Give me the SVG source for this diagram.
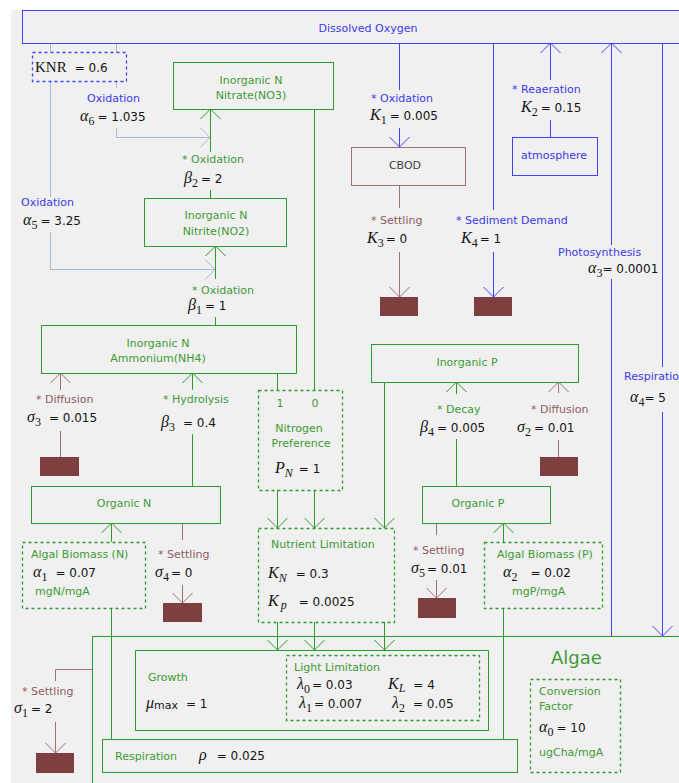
<svg xmlns="http://www.w3.org/2000/svg" width="679" height="783" viewBox="0 0 679 783">
<style>
.bg{fill:#f0f0f0}
.box{fill:none;stroke-width:1}
.bl{stroke:#4141ff}
.gr{stroke:#2e9a2e}
.br{stroke:#a07070}
.lb{stroke:#a6b9d6}
.dash{stroke-dasharray:3 3;stroke-width:1.3}
.t{font-family:"DejaVu Sans","Liberation Sans",sans-serif;font-size:11px}
.tb{fill:#3a3ae8}
.tg{fill:#3d9a35}
.tr{fill:#8f5c5c}
.tk{fill:#404040}
.n{font-family:"DejaVu Sans","Liberation Sans",sans-serif;font-size:12px;fill:#141414}
.m{font-family:"Liberation Serif",serif;font-style:italic;font-size:16px}
.s{font-family:"Liberation Serif",serif;font-size:12px}
.si{font-family:"Liberation Serif",serif;font-style:italic;font-size:12px}
.sed{fill:#7d3f3f}
.c{fill:none;stroke-width:1}
</style>
<defs>
<marker id="ab" viewBox="-11 -11 12 22" refX="0" refY="0" markerWidth="12" markerHeight="22" markerUnits="userSpaceOnUse" orient="auto"><path d="M-10,-10 L0,0 L-10,10" fill="none" stroke="#4141ff"/></marker>
<marker id="ag" viewBox="-11 -11 12 22" refX="0" refY="0" markerWidth="12" markerHeight="22" markerUnits="userSpaceOnUse" orient="auto"><path d="M-10,-10 L0,0 L-10,10" fill="none" stroke="#2e9a2e"/></marker>
<marker id="ar" viewBox="-11 -11 12 22" refX="0" refY="0" markerWidth="12" markerHeight="22" markerUnits="userSpaceOnUse" orient="auto"><path d="M-10,-10 L0,0 L-10,10" fill="none" stroke="#a07070"/></marker>
<marker id="al" viewBox="-11 -11 12 22" refX="0" refY="0" markerWidth="12" markerHeight="22" markerUnits="userSpaceOnUse" orient="auto"><path d="M-10,-10 L0,0 L-10,10" fill="none" stroke="#a6b9d6"/></marker>
</defs>
<rect width="679" height="783" fill="#ffffff"/>
<rect class="bg" x="11" y="10" width="668" height="773"/>

<g id="algae">
<rect class="box gr" x="92.5" y="636.5" width="700" height="200"/>
<text class="tg" x="551" y="664" font-family="DejaVu Sans, sans-serif" font-size="18">Algae</text>
</g>

<g id="connectors">
<path class="c bl" d="M399.5,43 V90"/>
<path class="c bl" d="M399.5,128 V147" marker-end="url(#ab)"/>
<path class="c bl" d="M550.5,137 V120"/>
<path class="c bl" d="M550.5,80 V43" marker-end="url(#ab)"/>
<path class="c bl" d="M493.5,43 V210"/>
<path class="c bl" d="M493.5,252 V297" marker-end="url(#ab)"/>
<path class="c bl" d="M611.5,636 V279"/>
<path class="c bl" d="M611.5,245 V43" marker-end="url(#ab)"/>
<path class="c bl" d="M662.5,43 V367"/>
<path class="c bl" d="M662.5,412 V636" marker-end="url(#ab)"/>

<path class="c lb" d="M50.5,43 V52 M116.5,43 V52 M50.5,81 V197 M116.5,81 V88"/>
<path class="c lb" d="M50.5,232 V269.5 H215" marker-end="url(#al)"/>
<path class="c lb" d="M116.5,128 V137.5 H210" marker-end="url(#al)"/>

<path class="c gr" d="M210.5,198 V190"/>
<path class="c gr" d="M210.5,152 V109" marker-end="url(#ag)"/>
<path class="c gr" d="M215.5,325 V317"/>
<path class="c gr" d="M215.5,279 V246" marker-end="url(#ag)"/>
<path class="c gr" d="M314.5,109 V390 M277.5,373 V390"/>
<path class="c gr" d="M192.5,486 V434"/>
<path class="c gr" d="M192.5,390 V373" marker-end="url(#ag)"/>
<path class="c gr" d="M111.5,542 V523" marker-end="url(#ag)"/>
<path class="c gr" d="M111.5,608 V739"/>
<path class="c gr" d="M277.5,490 V528" marker-end="url(#ag)"/>
<path class="c gr" d="M314.5,490 V528" marker-end="url(#ag)"/>
<path class="c gr" d="M384.5,382 V528" marker-end="url(#ag)"/>
<path class="c gr" d="M277.5,622 V650" marker-end="url(#ag)"/>
<path class="c gr" d="M314.5,622 V650" marker-end="url(#ag)"/>
<path class="c gr" d="M384.5,622 V650" marker-end="url(#ag)"/>
<path class="c gr" d="M456.5,486 V439"/>
<path class="c gr" d="M456.5,394 V382" marker-end="url(#ag)"/>
<path class="c gr" d="M503.5,542 V523" marker-end="url(#ag)"/>
<path class="c gr" d="M503.5,608 V739"/>

<path class="c br" d="M399.5,185 V208"/>
<path class="c br" d="M399.5,252 V297" marker-end="url(#ar)"/>
<path class="c br" d="M60.5,457 V431"/>
<path class="c br" d="M60.5,390 V373" marker-end="url(#ar)"/>
<path class="c br" d="M558.5,457 V440"/>
<path class="c br" d="M558.5,393 V382" marker-end="url(#ar)"/>
<path class="c br" d="M182.5,523 V540"/>
<path class="c br" d="M182.5,585 V603" marker-end="url(#ar)"/>
<path class="c br" d="M436.5,523 V535"/>
<path class="c br" d="M436.5,580 V598" marker-end="url(#ar)"/>
<path class="c br" d="M92,669.5 H55.5 V681"/>
<path class="c br" d="M55.5,722 V753" marker-end="url(#ar)"/>
</g>

<g id="labels">
<text class="t tb" x="87" y="102">Oxidation</text>
<text class="n" x="80" y="121"><tspan class="m">α</tspan><tspan class="s" dy="4">6</tspan><tspan dy="-4" dx="3">= 1.035</tspan></text>
<text class="t tb" x="21" y="206">Oxidation</text>
<text class="n" x="23" y="225"><tspan class="m">α</tspan><tspan class="s" dy="4">5</tspan><tspan dy="-4" dx="3">= 3.25</tspan></text>
<text class="t tg" x="182" y="163">* Oxidation</text>
<text class="n" x="184" y="183"><tspan class="m">β</tspan><tspan class="s" dy="4">2</tspan><tspan dy="-4" dx="3">= 2</tspan></text>
<text class="t tg" x="192" y="294">* Oxidation</text>
<text class="n" x="188" y="310"><tspan class="m">β</tspan><tspan class="s" dy="4">1</tspan><tspan dy="-4" dx="3">= 1</tspan></text>
<text class="t tb" x="371" y="102">* Oxidation</text>
<text class="n" x="370" y="120"><tspan class="m">K</tspan><tspan class="s" dy="4">1</tspan><tspan dy="-4" dx="3">= 0.005</tspan></text>
<text class="t tb" x="512" y="93">* Reaeration</text>
<text class="n" x="521" y="112"><tspan class="m">K</tspan><tspan class="s" dy="4">2</tspan><tspan dy="-4" dx="3">= 0.15</tspan></text>
<text class="t tr" x="371" y="224">* Settling</text>
<text class="n" x="367" y="243"><tspan class="m">K</tspan><tspan class="s" dy="4">3</tspan><tspan dy="-4" dx="2">= 0</tspan></text>
<text class="t tb" x="456" y="224">* Sediment Demand</text>
<text class="n" x="461" y="243"><tspan class="m">K</tspan><tspan class="s" dy="4">4</tspan><tspan dy="-4" dx="2">= 1</tspan></text>
<text class="t tb" x="558" y="256">Photosynthesis</text>
<text class="n" x="588" y="273"><tspan class="m">α</tspan><tspan class="s" dy="4">3</tspan><tspan dy="-4">= 0.0001</tspan></text>
<text class="t tb" x="624" y="380">Respiration</text>
<text class="n" x="630" y="402"><tspan class="m">α</tspan><tspan class="s" dy="4">4</tspan><tspan dy="-4">= 5</tspan></text>
<text class="t tr" x="36" y="403">* Diffusion</text>
<text class="n" x="27" y="422"><tspan class="m">σ</tspan><tspan class="s" dy="4">3</tspan><tspan dy="-4" dx="8">= 0.015</tspan></text>
<text class="t tg" x="163" y="403">* Hydrolysis</text>
<text class="n" x="161" y="427"><tspan class="m">β</tspan><tspan class="s" dy="4">3</tspan><tspan dy="-4" dx="8">= 0.4</tspan></text>
<text class="t tr" x="158" y="558">* Settling</text>
<text class="n" x="155" y="577"><tspan class="m">σ</tspan><tspan class="s" dy="4">4</tspan><tspan dy="-4" dx="2">= 0</tspan></text>
<text class="t tg" x="437" y="413">* Decay</text>
<text class="n" x="420" y="432"><tspan class="m">β</tspan><tspan class="s" dy="4">4</tspan><tspan dy="-4" dx="3">= 0.005</tspan></text>
<text class="t tr" x="531" y="413">* Diffusion</text>
<text class="n" x="517" y="432"><tspan class="m">σ</tspan><tspan class="s" dy="4">2</tspan><tspan dy="-4" dx="3">= 0.01</tspan></text>
<text class="t tr" x="413" y="554">* Settling</text>
<text class="n" x="411" y="573"><tspan class="m">σ</tspan><tspan class="s" dy="4">5</tspan><tspan dy="-4" dx="2">= 0.01</tspan></text>
<text class="t tr" x="22" y="695">* Settling</text>
<text class="n" x="14" y="713"><tspan class="m">σ</tspan><tspan class="s" dy="4">1</tspan><tspan dy="-4" dx="3">= 2</tspan></text>
</g>

<g id="dissolved-oxygen">
<rect class="box bl" x="22.5" y="10.5" width="700" height="33"/>
<text class="t tb" x="368" y="32" text-anchor="middle">Dissolved Oxygen</text>
</g>

<g id="knr">
<rect class="box bl dash" x="32.5" y="52.5" width="94" height="29"/>
<text class="n" x="35" y="72"><tspan font-family="Liberation Serif, serif" font-size="15">KNR</tspan><tspan dx="8">= 0.6</tspan></text>
</g>

<g id="nitrate">
<rect class="box gr" x="173.5" y="62.5" width="160" height="47"/>
<text class="t tg" x="251" y="84" text-anchor="middle">Inorganic N</text>
<text class="t tg" x="251" y="99" text-anchor="middle">Nitrate(NO3)</text>
</g>

<g id="nitrite">
<rect class="box gr" x="144.5" y="198.5" width="142" height="48"/>
<text class="t tg" x="216" y="219" text-anchor="middle">Inorganic N</text>
<text class="t tg" x="216" y="235" text-anchor="middle">Nitrite(NO2)</text>
</g>

<g id="ammonium">
<rect class="box gr" x="41.5" y="325.5" width="255" height="48"/>
<text class="t tg" x="158" y="347" text-anchor="middle">Inorganic N</text>
<text class="t tg" x="158" y="362" text-anchor="middle">Ammonium(NH4)</text>
</g>

<g id="cbod">
<rect class="box br" x="351.5" y="147.5" width="114" height="38"/>
<text class="t tk" x="405" y="169" text-anchor="middle">CBOD</text>
</g>

<g id="atmosphere">
<rect class="box bl" x="512.5" y="137.5" width="85" height="38"/>
<text class="t tb" x="554" y="159" text-anchor="middle">atmosphere</text>
</g>

<g id="inorganic-p">
<rect class="box gr" x="371.5" y="344.5" width="207" height="38"/>
<text class="t tg" x="467" y="366" text-anchor="middle">Inorganic P</text>
</g>

<g id="organic-n">
<rect class="box gr" x="31.5" y="486.5" width="189" height="37"/>
<text class="t tg" x="124" y="507" text-anchor="middle">Organic N</text>
</g>

<g id="organic-p">
<rect class="box gr" x="422.5" y="486.5" width="128" height="37"/>
<text class="t tg" x="478" y="507" text-anchor="middle">Organic P</text>
</g>

<g id="nitrogen-preference">
<rect class="box gr dash" x="258.5" y="390.5" width="84" height="100"/>
<text class="t tg" x="280" y="407" text-anchor="middle">1</text>
<text class="t tg" x="315" y="407" text-anchor="middle">0</text>
<text class="t tg" x="299" y="432" text-anchor="middle">Nitrogen</text>
<text class="t tg" x="301" y="447" text-anchor="middle">Preference</text>
<text class="n" x="275" y="473"><tspan class="m">P</tspan><tspan class="si" dy="4">N</tspan><tspan dy="-4" dx="6">= 1</tspan></text>
</g>

<g id="nutrient-limitation">
<rect class="box gr dash" x="258.5" y="528.5" width="136" height="94"/>
<text class="t tg" x="271" y="548">Nutrient Limitation</text>
<text class="n" x="268" y="578"><tspan class="m">K</tspan><tspan class="si" dy="4">N</tspan><tspan dy="-4" dx="9">= 0.3</tspan></text>
<text class="n" x="268" y="606"><tspan class="m">K</tspan><tspan class="si" dy="3" dx="2">p</tspan><tspan dy="-3" dx="12">= 0.0025</tspan></text>
</g>

<g id="algal-biomass-n">
<rect class="box gr dash" x="22.5" y="542.5" width="123" height="66"/>
<text class="t tg" x="31" y="558">Algal Biomass (N)</text>
<text class="n" x="33" y="577"><tspan class="m">α</tspan><tspan class="s" dy="4">1</tspan><tspan dy="-4" dx="8">= 0.07</tspan></text>
<text class="t tg" x="35" y="595">mgN/mgA</text>
</g>

<g id="algal-biomass-p">
<rect class="box gr dash" x="484.5" y="542.5" width="118" height="66"/>
<text class="t tg" x="497" y="558">Algal Biomass (P)</text>
<text class="n" x="503" y="577"><tspan class="m">α</tspan><tspan class="s" dy="4">2</tspan><tspan dy="-4" dx="13">= 0.02</tspan></text>
<text class="t tg" x="512" y="595">mgP/mgA</text>
</g>

<g id="growth">
<rect class="box gr" x="135.5" y="650.5" width="353" height="80"/>
<text class="t tg" x="148" y="681">Growth</text>
<text class="n" x="146" y="708"><tspan class="m">μ</tspan><tspan font-size="11" dy="1">max</tspan><tspan dy="-1" dx="8">= 1</tspan></text>
</g>

<g id="light-limitation">
<rect class="box gr dash" x="286.5" y="655.5" width="193" height="65"/>
<text class="t tg" x="294" y="671">Light Limitation</text>
<text class="n" x="297" y="689"><tspan class="m">λ</tspan><tspan class="s" dy="4">0</tspan><tspan dy="-4" dx="2">= 0.03</tspan></text>
<text class="n" x="299" y="708"><tspan class="m">λ</tspan><tspan class="s" dy="4">1</tspan><tspan dy="-4" dx="2">= 0.007</tspan></text>
<text class="n" x="388" y="689"><tspan class="m">K</tspan><tspan class="si" dy="3">L</tspan><tspan dy="-3" dx="8">= 4</tspan></text>
<text class="n" x="392" y="708"><tspan class="m">λ</tspan><tspan class="s" dy="4">2</tspan><tspan dy="-4" dx="8">= 0.05</tspan></text>
</g>

<g id="respiration">
<rect class="box gr" x="102.5" y="739.5" width="415" height="33"/>
<text class="t tg" x="115" y="760">Respiration</text>
<text class="n" x="199" y="760"><tspan class="m">ρ</tspan><tspan dx="10">= 0.025</tspan></text>
</g>

<g id="conversion-factor">
<rect class="box gr dash" x="530.5" y="679.5" width="90" height="93"/>
<text class="t tg" x="539" y="695">Conversion</text>
<text class="t tg" x="539" y="710">Factor</text>
<text class="n" x="539" y="732"><tspan class="m">α</tspan><tspan class="s" dy="4">0</tspan><tspan dy="-4" dx="3">= 10</tspan></text>
<text class="t tg" x="539" y="756">ugCha/mgA</text>
</g>

<g id="sediments">
<rect class="sed" x="40" y="457" width="39" height="19"/>
<rect class="sed" x="163" y="603" width="39" height="19"/>
<rect class="sed" x="380" y="297" width="38" height="19"/>
<rect class="sed" x="474" y="297" width="38" height="19"/>
<rect class="sed" x="540" y="457" width="38" height="19"/>
<rect class="sed" x="418" y="598" width="38" height="20"/>
<rect class="sed" x="36" y="753" width="38" height="20"/>
</g>
</svg>
